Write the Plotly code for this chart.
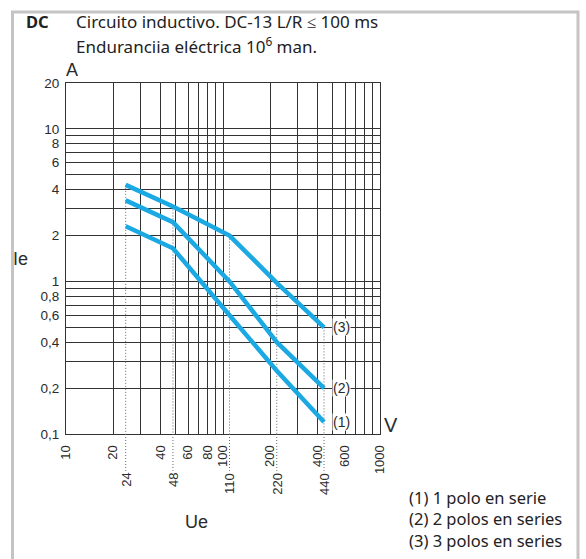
import numpy as np
import plotly.graph_objects as go

# Operating voltage (V) and breaking current (A) for each contact arrangement
ue_points = [24, 48, 110, 220, 440]
ie_1pole = [2.3, 1.65, 0.6, 0.26, 0.12]
ie_2poles = [3.4, 2.45, 1.0, 0.4, 0.2]
ie_3poles = [4.3, 3.1, 2.0, 0.98, 0.5]
curve_names = ["(1)", "(2)", "(3)"]

# Axis grid positions and the labels shown on them
x_grid = [10, 20, 30, 40, 50, 60, 70, 80, 90, 100, 200, 300, 400, 500, 600, 700, 800, 900, 1000]
x_labeled = [10, 20, 40, 60, 80, 100, 200, 400, 600, 1000]
y_grid = [0.1, 0.2, 0.3, 0.4, 0.5, 0.6, 0.7, 0.8, 0.9, 1, 2, 3, 4, 5, 6, 7, 8, 9, 10, 20]
y_labeled = {0.1: "0,1", 0.2: "0,2", 0.4: "0,4", 0.6: "0,6", 0.8: "0,8", 1: "1",
             2: "2", 4: "4", 6: "6", 8: "8", 10: "10", 20: "20"}
rated_voltages = [24, 48, 110, 220, 440]

legend_lines = ["(1) 1 polo en serie", "(2) 2 polos en series", "(3) 3 polos en series"]

W, H = 586, 559
ML, MR, MT, MB = 66, 206, 83, 125
PW, PH = W - ML - MR, H - MT - MB

BLUE = "#1aa9e3"
GRID = "#333333"
TEXT = "#2b2b2b"
TITLE_FONT = "Noto Sans"
NUM_FONT = "Liberation Sans"


def px_x(p):
    return (p - ML) / PW


def px_y(p):
    return (H - MB - p) / PH


fig = go.Figure()

# dotted leader lines from the upper curve down to the axis
top_curve_log = np.log10(ie_3poles)
for v in rated_voltages:
    top = 10 ** np.interp(np.log10(v), np.log10(ue_points), top_curve_log)
    fig.add_trace(go.Scatter(x=[v, v], y=[top, 0.1], mode="lines",
                             line=dict(color="#666", width=1, dash="1px,2px"),
                             hoverinfo="skip", showlegend=False))
    fig.add_shape(type="line", xref="x", yref="paper", x0=v, x1=v, y0=0, y1=-0.105,
                  line=dict(color="#666", width=1, dash="1px,2px"))
    fig.add_annotation(x=np.log10(v), xref="x", y=0, yref="paper", yanchor="top",
                       yshift=-37, text=str(v), textangle=-90, showarrow=False,
                       font=dict(family=NUM_FONT, size=13, color=TEXT))

for name, series in zip(curve_names, [ie_1pole, ie_2poles, ie_3poles]):
    fig.add_trace(go.Scatter(x=ue_points, y=series, mode="lines",
                             line=dict(color=BLUE, width=4.5),
                             name=name, showlegend=False))
    fig.add_annotation(x=np.log10(ue_points[-1]), y=np.log10(series[-1]),
                       xref="x", yref="y", xshift=17, text=name, showarrow=False,
                       bgcolor="white", borderpad=0,
                       font=dict(family=NUM_FONT, size=14, color=TEXT))

fig.update_xaxes(type="log", range=[1, 3], tickmode="array", tickvals=x_grid,
                 ticktext=[str(v) if v in x_labeled else "" for v in x_grid],
                 tickangle=-90, showgrid=True, gridcolor=GRID, gridwidth=1,
                 showline=True, linecolor=GRID, linewidth=1, mirror=True,
                 ticks="", ticklabelstandoff=5, zeroline=False,
                 tickfont=dict(family=NUM_FONT, size=13, color=TEXT))
fig.update_yaxes(type="log", range=[-1, np.log10(20)], tickmode="array", tickvals=y_grid,
                 ticktext=[y_labeled.get(v, "") for v in y_grid],
                 showgrid=True, gridcolor=GRID, gridwidth=1,
                 showline=True, linecolor=GRID, linewidth=1, mirror=True,
                 ticks="", ticklabelstandoff=3, zeroline=False,
                 tickfont=dict(family=NUM_FONT, size=13.5, color=TEXT))

ann = []
ann.append(dict(x=px_x(24), y=px_y(21), text="<b>DC</b>", xanchor="left",
                font=dict(family=TITLE_FONT, size=16.5, color="#222")))
ann.append(dict(x=px_x(74), y=px_y(21), text="Circuito inductivo. DC-13 L/R ≤ 100 ms",
                xanchor="left", font=dict(family=TITLE_FONT, size=17, color="#222")))
ann.append(dict(x=px_x(74), y=px_y(45.5), text="Enduranciia eléctrica 10<sup>6</sup> man.",
                xanchor="left", font=dict(family=TITLE_FONT, size=17, color="#222")))
ann.append(dict(x=px_x(72), y=px_y(70), text="A",
                font=dict(family=NUM_FONT, size=18, color=TEXT)))
ann.append(dict(x=px_x(391), y=px_y(425), text="V",
                font=dict(family=NUM_FONT, size=20, color=TEXT)))
ann.append(dict(x=px_x(20), y=px_y(259), text="Ie",
                font=dict(family=NUM_FONT, size=18, color=TEXT)))
ann.append(dict(x=px_x(196), y=px_y(522), text="Ue",
                font=dict(family=NUM_FONT, size=18, color=TEXT)))
for i, line in enumerate(legend_lines):
    ann.append(dict(x=px_x(407), y=px_y(497 + 21.5 * i), text=line, xanchor="left",
                    font=dict(family=TITLE_FONT, size=16.5, color="#222")))
for a in ann:
    a.setdefault("xanchor", "center")
    fig.add_annotation(xref="paper", yref="paper", showarrow=False, yanchor="middle", **a)

# outer frame
fig.add_shape(type="rect", xref="paper", yref="paper",
              x0=px_x(12.5), x1=px_x(578), y0=px_y(12), y1=px_y(575),
              line=dict(color="#c4c4c4", width=3), fillcolor="rgba(0,0,0,0)")

fig.update_layout(width=W, height=H, margin=dict(l=ML, r=MR, t=MT, b=MB),
                  paper_bgcolor="white", plot_bgcolor="white", showlegend=False)

fig.write_html("out.html")
